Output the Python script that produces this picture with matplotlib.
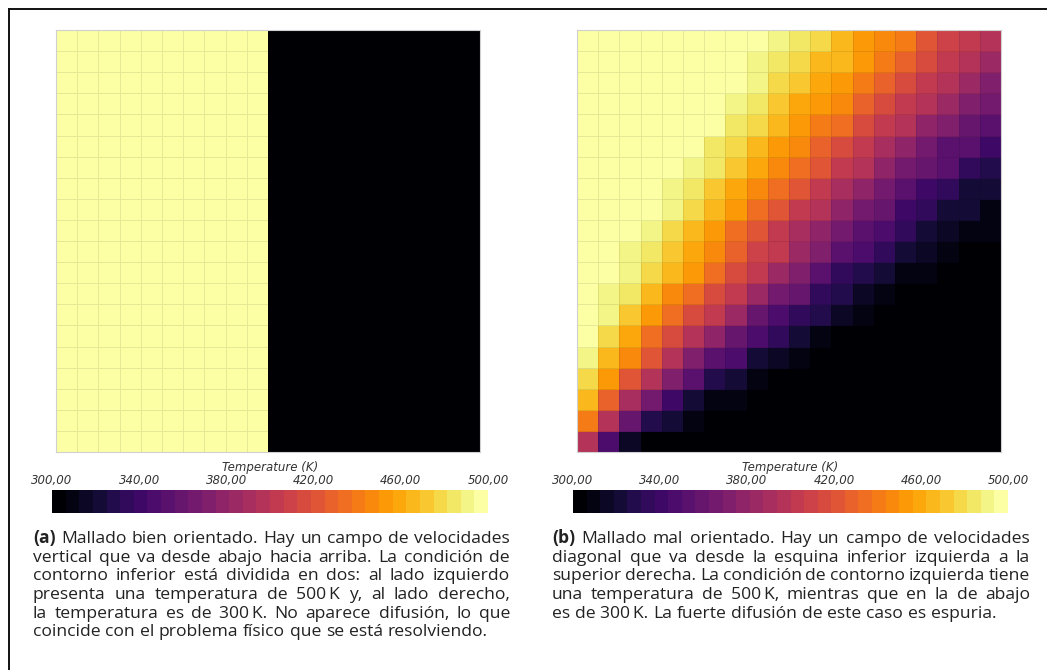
import numpy as np
import matplotlib
matplotlib.use("Agg")
import matplotlib.pyplot as plt
from matplotlib.lines import Line2D

# Temperature fields (K), 20 x 20 cells, top row first
left_row = [500, 500, 500, 500, 500, 500, 500, 500, 500, 500,
            300, 300, 300, 300, 300, 300, 300, 300, 300, 300]
n_rows = 20

right_field = [
    [500, 500, 500, 500, 500, 500, 500, 500, 494, 492, 486, 480, 468, 456, 448, 440, 424, 412, 400, 394],
    [500, 500, 500, 500, 500, 500, 500, 500, 492, 484, 478, 468, 464, 454, 438, 426, 416, 406, 394, 384],
    [500, 500, 500, 500, 500, 500, 500, 494, 492, 478, 474, 460, 450, 442, 428, 416, 406, 396, 384, 372],
    [500, 500, 500, 500, 500, 500, 500, 492, 486, 474, 460, 452, 444, 430, 418, 404, 394, 384, 372, 364],
    [500, 500, 500, 500, 500, 500, 494, 486, 478, 468, 456, 442, 432, 416, 406, 394, 380, 372, 360, 350],
    [500, 500, 500, 500, 500, 494, 486, 478, 466, 456, 444, 428, 416, 404, 392, 376, 368, 356, 350, 340],
    [500, 500, 500, 500, 500, 492, 484, 470, 460, 446, 432, 420, 406, 394, 380, 366, 358, 352, 334, 330],
    [500, 500, 500, 500, 492, 482, 472, 460, 448, 434, 420, 406, 392, 380, 366, 356, 340, 332, 324, 320],
    [500, 500, 500, 500, 490, 476, 466, 450, 436, 420, 406, 394, 378, 364, 360, 340, 332, 324, 320, 312],
    [500, 500, 500, 492, 478, 464, 454, 436, 420, 406, 392, 380, 364, 352, 344, 336, 324, 314, 310, 308],
    [500, 500, 492, 484, 474, 458, 444, 430, 412, 400, 384, 370, 356, 346, 336, 324, 316, 312, 302, 300],
    [500, 500, 492, 476, 464, 450, 434, 416, 400, 384, 370, 356, 336, 326, 324, 312, 308, 306, 300, 300],
    [500, 492, 484, 468, 448, 432, 416, 400, 384, 364, 360, 336, 330, 316, 312, 304, 300, 300, 300, 300],
    [500, 490, 470, 454, 434, 414, 400, 384, 360, 344, 334, 326, 316, 310, 304, 300, 300, 300, 300, 300],
    [500, 478, 460, 434, 416, 396, 376, 360, 344, 334, 320, 312, 304, 300, 300, 300, 300, 300, 300, 300],
    [492, 466, 446, 420, 396, 372, 354, 344, 324, 314, 310, 300, 300, 300, 300, 300, 300, 300, 300, 300],
    [480, 454, 424, 396, 372, 354, 330, 320, 312, 300, 300, 300, 300, 300, 300, 300, 300, 300, 300, 300],
    [468, 428, 392, 364, 340, 320, 310, 308, 300, 300, 300, 300, 300, 300, 300, 300, 300, 300, 300, 300],
    [440, 394, 360, 330, 320, 310, 300, 300, 300, 300, 300, 300, 300, 300, 300, 300, 300, 300, 300, 300],
    [394, 344, 314, 306, 300, 300, 300, 300, 300, 300, 300, 300, 300, 300, 300, 300, 300, 300, 300, 300],
]

cbar_ticks = [300, 340, 380, 420, 460, 500]
cbar_labels = ["300,00", "340,00", "380,00", "420,00", "460,00", "500,00"]
cbar_title = "Temperature (K)"

caption_a = [
    "(a) Mallado bien orientado. Hay un campo de velocidades",
    "vertical que va desde abajo hacia arriba. La condición de",
    "contorno inferior está dividida en dos: al lado izquierdo",
    "presenta una temperatura de 500\u2009K y, al lado derecho,",
    "la temperatura es de 300\u2009K. No aparece difusión, lo que",
    "coincide con el problema físico que se está resolviendo.",
]
caption_b = [
    "(b) Mallado mal orientado. Hay un campo de velocidades",
    "diagonal que va desde la esquina inferior izquierda a la",
    "superior derecha. La condición de contorno izquierda tiene",
    "una temperatura de 500\u2009K, mientras que en la de abajo",
    "es de 300\u2009K. La fuerte difusión de este caso es espuria.",
]

W, H = 1047, 670
cmap = matplotlib.colormaps["inferno"].resampled(32)
text_col = "#222222"
cap_font = ["Open Sans", "DejaVu Sans"]

fig = plt.figure(figsize=(W / 100, H / 100), dpi=100)


def px_axes(x0, y0, x1, y1):
    return fig.add_axes([x0 / W, 1 - y1 / H, (x1 - x0) / W, (y1 - y0) / H])


def draw_field(ax, field):
    data = np.array(field, dtype=float)[::-1]
    mesh = ax.pcolormesh(data, cmap=cmap, vmin=300, vmax=500,
                         edgecolors=(0, 0, 0, 0.09), linewidth=0.7)
    ax.set_xlim(0, data.shape[1])
    ax.set_ylim(0, data.shape[0])
    ax.set_xticks([])
    ax.set_yticks([])
    for s in ax.spines.values():
        s.set_color("#d0d0d0")
        s.set_linewidth(0.8)
    return mesh


def draw_cbar(cax, mesh):
    cb = fig.colorbar(mesh, cax=cax, orientation="horizontal")
    cb.outline.set_visible(False)
    cax.xaxis.set_ticks_position("top")
    cax.set_xticks(cbar_ticks)
    cax.set_xticklabels(cbar_labels, fontstyle="italic", fontsize=8.5, color="#333333")
    cax.tick_params(axis="x", length=0, pad=2)
    cax.set_title(cbar_title, fontstyle="italic", fontsize=8.5, color="#333333", pad=1.5)


def justified(lines, x0, x1, base0, dy, size=12.6):
    renderer = fig.canvas.get_renderer()
    for i, line in enumerate(lines):
        y = 1 - (base0 + i * dy) / H
        words = line.split(" ")
        texts = []
        for j, w in enumerate(words):
            bold = (i == 0 and j == 0)
            t = fig.text(0, y, w, fontsize=size, family=cap_font, color=text_col,
                         fontweight="bold" if bold else "normal", va="baseline")
            texts.append(t)
        widths = [t.get_window_extent(renderer).width for t in texts]
        if i == len(lines) - 1:
            gap = size * 100 / 72 * 0.27
        else:
            gap = (x1 - x0 - sum(widths)) / (len(words) - 1)
        x = x0
        for t, w in zip(texts, widths):
            t.set_x(x / W)
            x += w + gap


left_field = [left_row for _ in range(n_rows)]

ax1 = px_axes(56, 30, 480, 452)
m1 = draw_field(ax1, left_field)
ax2 = px_axes(577, 30, 1001, 452)
m2 = draw_field(ax2, right_field)

cax1 = px_axes(52, 490, 488, 513)
draw_cbar(cax1, m1)
cax2 = px_axes(573, 490, 1008, 513)
draw_cbar(cax2, m2)

justified(caption_a, 33, 510, 543, 18.7)
justified(caption_b, 552, 1030, 543, 18.7)

# frame (top and left edges)
fig.add_artist(Line2D([9 / W, 1], [1 - 9 / H, 1 - 9 / H], color="#111111", lw=1.4))
fig.add_artist(Line2D([9 / W, 9 / W], [1 - 9 / H, 0], color="#111111", lw=1.4))

fig.savefig("out.png", dpi=100)
